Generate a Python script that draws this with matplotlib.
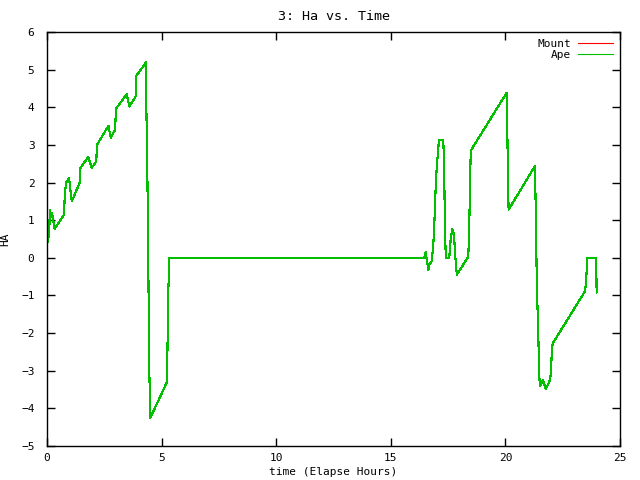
import matplotlib

matplotlib.use("Agg")
import matplotlib.pyplot as plt

# elapsed time (hours) and hour angle
time_h = [0.0, 0.05, 0.1, 0.12, 0.18, 0.22, 0.33, 0.74, 0.78, 0.84, 0.96, 1.08,
          1.43, 1.46, 1.8, 1.95, 2.15, 2.18, 2.68, 2.78, 2.97, 3.01, 3.48, 3.59,
          3.87, 3.9, 4.32, 4.33, 4.38, 4.42, 4.46, 4.51, 5.22, 5.25, 5.29, 5.34,
          16.46, 16.52, 16.57, 16.64, 16.67, 16.78, 16.85, 16.9, 16.96, 17.0,
          17.1, 17.29, 17.33, 17.36, 17.4, 17.55, 17.61, 17.68, 17.73, 17.77,
          17.83, 17.88, 18.38, 18.42, 18.46, 18.49, 20.06, 20.08, 20.11, 20.14,
          21.29, 21.32, 21.37, 21.44, 21.47, 21.5, 21.55, 21.63, 21.7, 21.76,
          21.87, 21.95, 21.99, 22.02, 22.06, 23.47, 23.52, 23.57, 23.94, 23.97,
          23.98]
ha = [0.35, 0.5, 0.69, 1.27, 1.09, 1.2, 0.77, 1.14, 1.73, 2.0, 2.12, 1.5,
      2.0, 2.39, 2.68, 2.39, 2.56, 3.0, 3.51, 3.19, 3.4, 3.96, 4.35, 4.02,
      4.29, 4.84, 5.19, 4.2, 2.18, -0.19, -2.92, -4.25, -3.32, -2.68, -0.92, 0.0,
      0.0, 0.15, -0.05, -0.32, -0.2, -0.1, 0.3, 0.92, 1.9, 2.36,
      3.13, 3.13, 2.34, 0.8, 0.0, 0.0, 0.48, 0.77, 0.68, 0.48,
      -0.1, -0.45, 0.03, 0.74, 2.12, 2.85, 4.39, 3.62, 2.07, 1.28,
      2.44, 1.41, -0.67, -2.18, -2.98, -3.4, -3.38, -3.24, -3.36, -3.49,
      -3.36, -3.24, -3.02, -2.55, -2.28, -0.89, -0.67, 0.0, 0.0, -0.45,
      -0.92]

plt.rcParams["font.family"] = "DejaVu Sans Mono"
plt.rcParams["font.size"] = 8

fig = plt.figure(figsize=(6.4, 4.8), dpi=100)
ax = fig.add_axes([47 / 640, 1 - 446 / 480, 573 / 640, 414 / 480])

ax.plot(time_h, ha, color="#ff0000", lw=0.8, antialiased=False, label="Mount")
ax.plot(time_h, ha, color="#00c000", lw=0.8, antialiased=False, label="Ape")

ax.set_xlim(0, 25)
ax.set_ylim(-5, 6)
ax.set_xticks(range(0, 26, 5))
ax.set_yticks(range(-5, 7))
ax.tick_params(direction="in", length=6, width=1, top=True, right=True)
ax.tick_params(axis="x", pad=5)
ax.tick_params(axis="y", pad=9)
for s in ax.spines.values():
    s.set_linewidth(1)

ax.set_title("3: Ha vs. Time", pad=9)
ax.set_xlabel("time (Elapse Hours)", labelpad=3)
ax.set_ylabel("HA", labelpad=8)
ax.legend(loc="upper right", frameon=False, markerfirst=False, handlelength=3.2,
          borderaxespad=0.2, labelspacing=0.1, handletextpad=0.6)

fig.savefig("out.png")
